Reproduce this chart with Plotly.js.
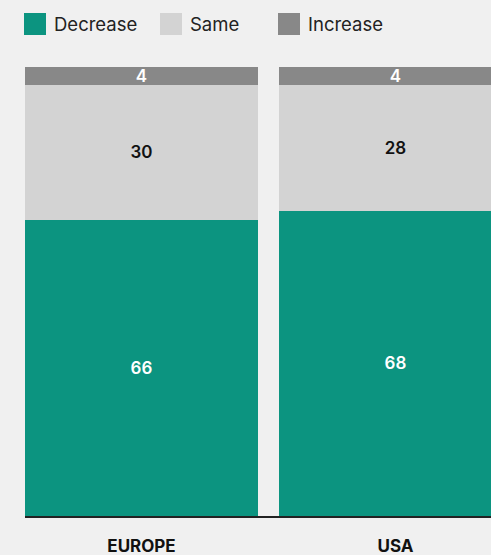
<!DOCTYPE html>
<html>
<head>
<meta charset="utf-8">
<script src="https://cdn.plot.ly/plotly-3.0.1.min.js"></script>
<style>html,body{margin:0;padding:0;background:#f0f0f0;}</style>
</head>
<body>
<div id="chart" style="width:491px;height:555px;"></div>
<script>
const categories = ["EUROPE", "USA"];
const seriesNames = ["Decrease", "Same", "Increase"];
const decrease = [66, 68];
const same = [30, 28];
const increase = [4, 4];
const colors = ["#0c9480", "#d3d3d3", "#888888"];
const textColors = ["#ffffff", "#111111", "#ffffff"];
const values = [decrease, same, increase];

const FONT = "Inter, 'Noto Sans', sans-serif";

const traces = values.map((v, i) => ({
  type: "bar",
  name: seriesNames[i],
  x: categories,
  y: v,
  text: v.map(String),
  textposition: "inside",
  insidetextanchor: "middle",
  constraintext: "none",
  textangle: 0,
  textfont: {family: FONT, size: 17, color: textColors[i], weight: 600},
  marker: {color: colors[i], line: {width: 0}},
  hoverinfo: "none",
  showlegend: false
}));

// custom legend (large swatches)
const legendX = [24, 160, 278];
const shapes = [];
const annotations = [];
seriesNames.forEach((n, i) => {
  shapes.push({type: "rect", xref: "paper", yref: "paper",
    x0: (legendX[i] - 25) / 466, x1: (legendX[i] + 22 - 25) / 466,
    y0: (516 - 13) / 449, y1: (516 - 35) / 449,
    fillcolor: colors[i], line: {width: 0}});
  annotations.push({xref: "paper", yref: "paper", x: (legendX[i] + 28 - 25) / 466,
    y: (516 - 24) / 449, xanchor: "left", yanchor: "middle", showarrow: false,
    text: n, font: {family: FONT, size: 18.5, color: "#222222"}});
});

const layout = {
  width: 491, height: 555,
  margin: {l: 25, r: 0, t: 67, b: 39, pad: 0},
  paper_bgcolor: "#f0f0f0",
  plot_bgcolor: "#f0f0f0",
  barmode: "stack",
  bargap: 0.0827,
  showlegend: false,
  xaxis: {
    type: "category",
    range: [-0.4587, 1.376],
    showgrid: false, zeroline: false,
    showline: true, linecolor: "#222222", linewidth: 1.5,
    ticks: "", ticklabelstandoff: 14,
    tickfont: {family: FONT, size: 17, color: "#111111", weight: 700}
  },
  yaxis: {
    range: [0, 100], visible: false, showgrid: false, zeroline: false
  },
  shapes: shapes,
  annotations: annotations
};

Plotly.newPlot("chart", traces, layout, {displayModeBar: false, staticPlot: true});
</script>
</body>
</html>
